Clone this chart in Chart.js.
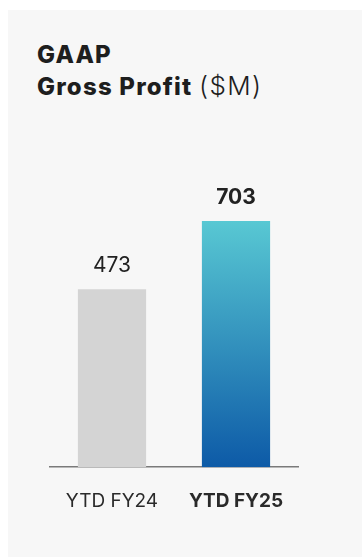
<!DOCTYPE html>
<html>
<head>
<meta charset="utf-8">
<script src="https://cdn.jsdelivr.net/npm/chart.js@4/dist/chart.umd.min.js"></script>
<style>
  html, body { margin: 0; padding: 0; background: #fff; }
  body { width: 362px; height: 558px; position: relative; overflow: hidden; }
  #panel { position: absolute; left: 8px; top: 10px; width: 354px; height: 547px; background: #f7f7f7; }
  #title { position: absolute; left: 37px; top: 39px; font-family: Inter, sans-serif; font-size: 24px; line-height: 31px; color: #1e1e1e; font-weight: 800; letter-spacing: 1.2px; }
  #title span { font-weight: 300; letter-spacing: 1.4px; font-size: 26px; }
  #wrap { position: absolute; left: 0; top: 0; }
</style>
</head>
<body>
<div id="panel"></div>
<div id="title">GAAP<br>Gross Profit <span>($M)</span></div>
<div id="wrap"><canvas id="grafica" width="362" height="558"></canvas></div>
<script>
// datos
const periodos = ['YTD FY24', 'YTD FY25'];
const beneficio = [473, 703];
const colorGris = '#d4d4d4';
// el eje no empieza en cero en el original
const ejeMin = -126;
const ejeMax = 848;

let ctx = document.getElementById('grafica').getContext('2d');

// etiquetas de valor encima de las barras
const etiquetas = {
  id: 'etiquetas',
  afterDatasetsDraw(chart) {
    const c = chart.ctx;
    const meta = chart.getDatasetMeta(0);
    c.save();
    c.textAlign = 'center';
    c.textBaseline = 'alphabetic';
    c.fillStyle = '#222';
    meta.data.forEach((bar, i) => {
      c.font = (i === 1 ? '700 ' : '400 ') + '21px Inter';
      c.fillText(beneficio[i], bar.x, bar.y - 17);
    });
    c.restore();
  }
};

let myChart = new Chart(ctx, {
  type: 'bar',
  data: {
    labels: periodos,
    datasets: [{
      data: beneficio,
      base: ejeMin,
      backgroundColor: (c) => {
        if (c.dataIndex === 0) return colorGris;
        const chart = c.chart;
        if (!chart.chartArea) return '#3a9fc8';
        const y = chart.scales.y;
        const g = chart.ctx.createLinearGradient(0, y.getPixelForValue(beneficio[1]), 0, chart.chartArea.bottom);
        g.addColorStop(0, '#58c8d3');
        g.addColorStop(1, '#0d5aa7');
        return g;
      },
      borderWidth: 0,
      barPercentage: 0.55,
      categoryPercentage: 1
    }]
  },
  plugins: [etiquetas],
  options: {
    responsive: false,
    animation: false,
    layout: { padding: { left: 50, right: 64, top: 178, bottom: 30 } },
    plugins: { legend: { display: false }, tooltip: { enabled: false } },
    scales: {
      y: { display: false, min: ejeMin, max: ejeMax },
      x: {
        grid: { display: false },
        border: { display: true, color: '#7a7a7a', width: 1.5 },
        ticks: {
          padding: 15,
          color: '#2a2a2a',
          font: (c) => ({ family: 'Inter', size: 19, weight: c.index === 1 ? '700' : '400' })
        }
      }
    }
  }
});
</script>
</body>
</html>
